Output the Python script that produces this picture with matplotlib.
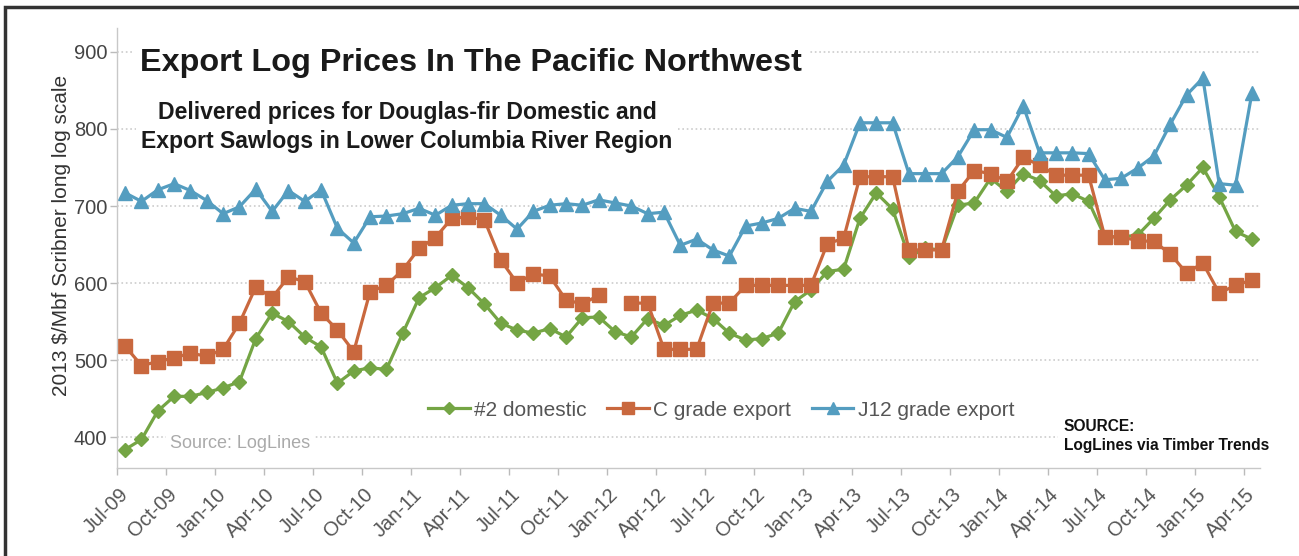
import numpy as np
import matplotlib.pyplot as plt
import matplotlib.transforms as mtransforms
from matplotlib.patches import Rectangle

plt.rcParams['font.family'] = ['Liberation Sans', 'DejaVu Sans']

# monthly values, Jul-09 .. Apr-15 (2013 $/Mbf)
domestic = [384, 397, 434, 453, 453, 458, 464, 472, 528, 561, 550, 530,
            517, 470, 486, 490, 488, 535, 581, 594, 610, 594, 573, 548,
            539, 535, 541, 530, 555, 556, 537, 530, 554, 545, 558, 565,
            554, 535, 526, 528, 535, 576, 591, 615, 618, 684, 717, 696,
            634, 645, 643, 701, 704, 736, 719, 742, 733, 713, 716, 706,
            660, 660, 662, 684, 708, 727, 750, 712, 667, 657]
c_grade = [518, 493, 498, 503, 509, 505, 514, 548, 595, 581, 608, 602,
           561, 539, 511, 589, 597, 617, 645, 659, 684, 686, 682, 630,
           600, 612, 609, 578, 573, 584, np.nan, 574, 574, 514, 514, 514,
           574, 574, 597, 597, 597, 597, 597, 651, 658, 738, 738, 738,
           643, 643, 643, 719, 746, 742, 732, 763, 753, 740, 740, 740,
           660, 660, 655, 654, 638, 613, 626, 587, 597, 604]
j12_grade = [717, 706, 721, 729, 720, 707, 690, 699, 722, 693, 720, 706,
             721, 671, 652, 686, 687, 690, 697, 688, 701, 703, 703, 688,
             670, 693, 701, 703, 701, 708, 704, 700, 690, 692, 649, 657,
             643, 635, 674, 678, 684, 697, 693, 732, 753, 808, 808, 808,
             742, 742, 742, 764, 799, 799, 789, 830, 769, 769, 769, 768,
             734, 736, 749, 765, 806, 844, 866, 729, 727, 846]

tick_labels = ['Jul-09', 'Oct-09', 'Jan-10', 'Apr-10', 'Jul-10', 'Oct-10',
               'Jan-11', 'Apr-11', 'Jul-11', 'Oct-11', 'Jan-12', 'Apr-12',
               'Jul-12', 'Oct-12', 'Jan-13', 'Apr-13', 'Jul-13', 'Oct-13',
               'Jan-14', 'Apr-14', 'Jul-14', 'Oct-14', 'Jan-15', 'Apr-15']
y_ticks = [400, 500, 600, 700, 800, 900]

green = '#74a544'
orange = '#c9683e'
blue = '#549dc0'

W, H = 1299, 556
fig = plt.figure(figsize=(W / 100, H / 100), dpi=100)
ax = fig.add_axes([117 / W, 1 - 468 / H, (1260 - 117) / W, (468 - 28) / H])

x = np.arange(len(domestic)) + 0.5
ax.plot(x, domestic, color=green, lw=2.3, marker='D', ms=7.5, label='#2 domestic')
ax.plot(x, c_grade, color=orange, lw=2.3, marker='s', ms=10.5, label='C grade export')
ax.plot(x, j12_grade, color=blue, lw=2.3, marker='^', ms=10.5, label='J12 grade export')

ax.set_xlim(0, len(domestic))
ax.set_ylim(360, 931)
ax.set_yticks(y_ticks)
ax.set_yticklabels([str(v) for v in y_ticks], fontsize=14.5, color='#444444')
ax.set_xticks(np.arange(0, len(domestic), 3))
ax.set_xticklabels(tick_labels, fontsize=14.5, color='#555555', rotation=45,
                   ha='right', va='center', rotation_mode='anchor')

ax.tick_params(axis='both', length=5, color='#bbbbbb', width=1)
ax.tick_params(axis='y', pad=2)
# shift the rotated month labels down and right (after tick_params, which resets them)
off = mtransforms.ScaledTranslation(8 / 100, -12 / 100, fig.dpi_scale_trans)
for lab in ax.get_xticklabels():
    lab.set_transform(lab.get_transform() + off)

ax.grid(axis='y', color='#cccccc', linestyle=':', lw=1.2)
ax.set_axisbelow(True)
for s in ['top', 'right']:
    ax.spines[s].set_visible(False)
for s in ['left', 'bottom']:
    ax.spines[s].set_color('#c8c8c8')
    ax.spines[s].set_linewidth(1)

fig.text(62 / W, 1 - 235 / H, '2013 $/Mbf Scribner long log scale', rotation=90,
         ha='center', va='center', fontsize=15, color='#333333')

# titles with white boxes that cover the gridlines
fig.text(140 / W, 1 - 63 / H, 'Export Log Prices In The Pacific Northwest',
         fontsize=23.3, fontweight='bold', color='#1a1a1a', ha='left', va='center',
         bbox=dict(facecolor='white', edgecolor='none', pad=6))
fig.text(407 / W, 1 - 127 / H,
         'Delivered prices for Douglas-fir Domestic and\nExport Sawlogs in Lower Columbia River Region',
         fontsize=16.6, fontweight='bold', color='#1a1a1a', ha='center', va='center',
         multialignment='center', linespacing=1.35,
         bbox=dict(facecolor='white', edgecolor='none', pad=4))
fig.text(170 / W, 1 - 443 / H, 'Source: LogLines', fontsize=13, color='#aaaaaa',
         ha='left', va='center',
         bbox=dict(facecolor='white', edgecolor='none', pad=3))
fig.text(1064 / W, 1 - 436 / H, 'SOURCE:\nLogLines via Timber Trends',
         fontsize=11.2, fontweight='bold', color='#111111', ha='left', va='center',
         linespacing=1.4,
         bbox=dict(facecolor='white', edgecolor='none', pad=4))

fig.legend(loc='center', bbox_to_anchor=(721 / W, 1 - 410 / H), ncol=3,
           frameon=False, fontsize=15, labelcolor='#555555', handlelength=2.0,
           handletextpad=0.2, columnspacing=1.0, markerscale=0.8)

# outer frame of the clipped page
fig.patches.append(Rectangle((5 / W, -0.05), 1.1, 1 - 7 / H + 0.05,
                             transform=fig.transFigure, fill=False,
                             edgecolor='#333333', lw=2.5))

fig.savefig('out.png', dpi=100)
